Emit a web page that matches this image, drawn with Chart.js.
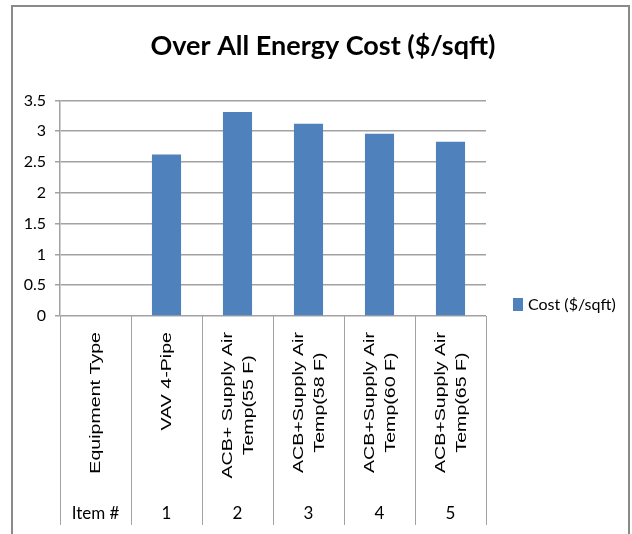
<!DOCTYPE html>
<html>
<head>
<meta charset="utf-8">
<title>Over All Energy Cost</title>
<script src="https://cdn.jsdelivr.net/npm/chart.js@4.4.0/dist/chart.umd.min.js"></script>
<style>
  html, body { margin: 0; padding: 0; background: #fff; }
  #wrap { position: relative; width: 632px; height: 534px; }
</style>
</head>
<body>
<div id="wrap"><canvas id="costChart" width="632" height="534"></canvas></div>
<script>
// equipment types (one entry per category, split into label lines)
const equipmentTypes = [
    ['Equipment Type'],
    ['VAV 4-Pipe'],
    ['ACB+ Supply Air', 'Temp(55 F)'],
    ['ACB+Supply Air', 'Temp(58 F)'],
    ['ACB+Supply Air', 'Temp(60 F)'],
    ['ACB+Supply Air', 'Temp(65 F)']
];
const itemNumbers = ['Item #', '1', '2', '3', '4', '5'];
const costPerSqft = [null, 2.62, 3.31, 3.12, 2.96, 2.83];
const yTickValues = [0, 0.5, 1, 1.5, 2, 2.5, 3, 3.5];

const barColor = '#4f81bd';
const lineGray = '#a2a2a2';

// outer frame, two-level category axis and the legend at the right
const excelLook = {
    id: 'excelLook',
    afterDraw(chart) {
        const ctx = chart.ctx;
        const x = chart.scales.x;
        const area = chart.chartArea;
        const n = chart.data.labels.length;
        const half = (x.getPixelForValue(1) - x.getPixelForValue(0)) / 2;
        const axisBottom = 525;

        ctx.save();

        // frame
        ctx.strokeStyle = '#8a8a8a';
        ctx.lineWidth = 2;
        ctx.strokeRect(12, 6, 617, 540);

        // category dividers
        ctx.strokeStyle = lineGray;
        ctx.lineWidth = 1;
        for (let i = 0; i <= n; i++) {
            const px = Math.round(x.getPixelForValue(i) - half) + 0.5;
            ctx.beginPath();
            ctx.moveTo(px, area.bottom);
            ctx.lineTo(px, axisBottom);
            ctx.stroke();
        }

        // rotated equipment names
        ctx.fillStyle = '#000';
        ctx.font = '14px "Liberation Sans", Arial, sans-serif';
        const stretch = 1.4;
        const labelTop = 332;
        const lineGap = 21;
        equipmentTypes.forEach((lines, i) => {
            const cx = x.getPixelForValue(i) + 1;
            const maxW = Math.max(...lines.map(l => ctx.measureText(l).width)) * stretch;
            const mid = labelTop + maxW / 2;
            lines.forEach((line, j) => {
                const off = (j - (lines.length - 1) / 2) * lineGap;
                ctx.save();
                ctx.translate(cx + off, mid);
                ctx.rotate(-Math.PI / 2);
                ctx.scale(stretch, 1);
                ctx.textAlign = 'center';
                ctx.textBaseline = 'middle';
                ctx.fillText(line, 0, 0);
                ctx.restore();
            });
        });

        // item numbers
        ctx.font = '17px Lato, sans-serif';
        ctx.textAlign = 'center';
        ctx.textBaseline = 'alphabetic';
        itemNumbers.forEach((t, i) => {
            ctx.fillText(t, x.getPixelForValue(i), 519);
        });

        // legend
        const ds = chart.data.datasets[0];
        ctx.fillStyle = ds.backgroundColor;
        ctx.fillRect(513, 298, 10, 13);
        ctx.fillStyle = '#000';
        ctx.font = '16px Lato, sans-serif';
        ctx.textAlign = 'left';
        ctx.textBaseline = 'middle';
        ctx.fillText(ds.label, 528, 305);

        ctx.restore();
    }
};

const ctx = document.getElementById('costChart').getContext('2d');
const costChart = new Chart(ctx, {
    type: 'bar',
    data: {
        labels: equipmentTypes.map(l => l.join(' ')),
        datasets: [{
            label: 'Cost ($/sqft)',
            data: costPerSqft,
            backgroundColor: barColor,
            borderWidth: 0,
            barPercentage: 0.41,
            categoryPercentage: 1
        }]
    },
    options: {
        responsive: false,
        animation: false,
        layout: {
            padding: { left: 14, right: 0, top: 0, bottom: 0 }
        },
        plugins: {
            legend: { display: false },
            tooltip: { enabled: false },
            title: {
                display: true,
                text: 'Over All Energy Cost ($/sqft)',
                color: '#000',
                font: { family: 'Lato', size: 27, weight: 'bold', lineHeight: 1.2 },
                padding: { top: 30, bottom: 38 }
            }
        },
        scales: {
            x: {
                grid: { display: false },
                border: { display: false },
                ticks: { display: false },
                afterFit(scale) { scale.height = 534 - 316; }
            },
            y: {
                min: 0,
                max: 3.5,
                afterBuildTicks(scale) {
                    scale.ticks = yTickValues.map(v => ({ value: v }));
                },
                ticks: {
                    color: '#000',
                    padding: 9,
                    font: { family: 'Lato', size: 16 },
                    callback: v => String(v)
                },
                grid: { color: lineGray, lineWidth: 1.5, tickLength: 5 },
                border: { color: lineGray, width: 1.5 },
                afterFit(scale) { scale.width = 46; }
            },
            // empty right-hand band that holds the legend
            side: {
                type: 'linear',
                position: 'right',
                grid: { display: false },
                border: { display: false },
                ticks: { display: false },
                afterFit(scale) { scale.width = 146; }
            }
        }
    },
    plugins: [excelLook]
});
</script>
</body>
</html>
